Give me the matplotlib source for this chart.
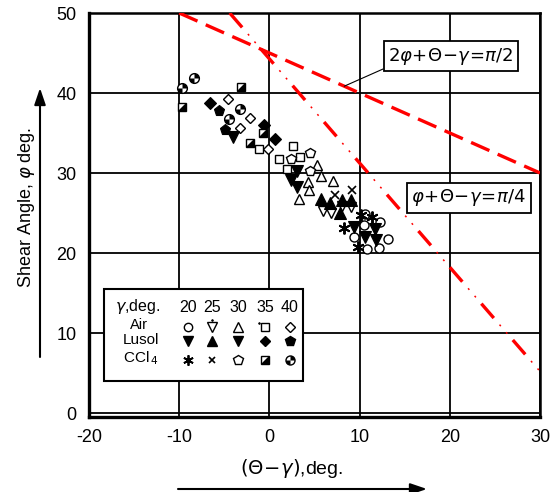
import matplotlib
matplotlib.use('Agg')
import matplotlib.pyplot as plt
from matplotlib.path import Path
from matplotlib.patches import Rectangle, FancyArrowPatch

plt.rcParams['font.family'] = ['Liberation Sans', 'DejaVu Sans']
plt.rcParams['mathtext.fontset'] = 'dejavusans'
plt.rcParams['lines.scale_dashes'] = False

# ---------------- data ----------------
air20_x = [10.6, 12.3, 10.5, 9.4, 13.1, 10.85, 12.1]
air20_y = [24.9, 23.9, 23.5, 22.0, 21.8, 20.5, 20.6]
air25_x = [5.9, 6.85, 8.1, 9.1]
air25_y = [25.2, 25.0, 25.9, 25.7]
air30_x = [5.3, 5.7, 7.1, 4.3, 4.4, 3.3]
air30_y = [31.0, 29.6, 29.0, 28.9, 27.9, 26.7]
air35_x = [-1.2, 1.1, 2.0, 2.6, 3.4]
air35_y = [33.0, 31.8, 30.5, 33.4, 32.0]
air40_x = [-4.6, -2.2, -3.3, -0.1]
air40_y = [39.3, 36.9, 35.6, 33.0]

lusol20_x = [9.4, 10.6, 11.7, 11.85]
lusol20_y = [23.3, 22.0, 23.0, 21.6]
lusol25_x = [5.7, 6.7, 8.1, 9.1, 7.8]
lusol25_y = [26.7, 26.3, 26.6, 26.6, 25.0]
lusol30_x = [3.1, 2.4, 3.1, -4.0]
lusol30_y = [30.2, 29.1, 28.2, 34.5]
lusol35_x = [-6.6, -0.6, 0.67]
lusol35_y = [38.7, 36.0, 34.25]
lusol40_x = [-5.6, -4.9]
lusol40_y = [37.7, 35.4]

ccl4_20_x = [10.1, 11.4, 8.3, 9.8]
ccl4_20_y = [24.75, 24.5, 23.1, 20.7]
ccl4_25_x = [7.3, 9.15]
ccl4_25_y = [27.25, 27.9]
ccl4_30_x = [2.4, 4.5, 4.5]
ccl4_30_y = [31.8, 32.5, 30.2]
ccl4_35_x = [-9.7, -3.1, -0.7, -2.2]
ccl4_35_y = [38.3, 40.7, 35.0, 33.7]
ccl4_40_x = [-8.4, -9.7, -3.3, -4.5]
ccl4_40_y = [41.9, 40.6, 38.0, 36.75]

# theory lines
line_half_x = [-10, 30]      # 2phi + Theta - gamma = pi/2
line_half_y = [50, 30]
line_quarter_x = [-4.4, 30]  # phi + Theta - gamma = pi/4
line_quarter_y = [50, 5.2]

xticks = [-20, -10, 0, 10, 20, 30]
yticks = [0, 10, 20, 30, 40, 50]
gammas = ['20', '25', '30', '35', '40']

# ---------------- custom markers ----------------
tri_lr = Path([(-1, -1), (1, -1), (1, 1), (-1, -1)],
              [Path.MOVETO, Path.LINETO, Path.LINETO, Path.CLOSEPOLY])
quads = Path.make_compound_path(Path.wedge(0, 90), Path.wedge(180, 270))

W, H = 551, 492
fig = plt.figure(figsize=(W / 100, H / 100), dpi=100)
ax = fig.add_axes([89 / W, 1 - 417 / H, 451 / W, 404 / H])
ax.set_xlim(-20, 30)
ax.set_ylim(-0.5, 50)
ax.set_xticks(xticks)
ax.set_yticks(yticks)
ax.set_xticklabels([str(v) for v in xticks])
ax.set_yticklabels([str(v) for v in yticks])
ax.tick_params(length=0, labelsize=13, pad=9)
ax.grid(True, color='black', lw=1.3)
ax.set_axisbelow(True)
for s in ['left', 'bottom']:
    ax.spines[s].set_linewidth(2.4)
for s in ['top', 'right']:
    ax.spines[s].set_linewidth(1.8)

# red theory lines
ax.plot(line_half_x, line_half_y, color='red', lw=2.4, dashes=(14.4, 6.5),
        solid_capstyle='butt', dash_capstyle='butt', zorder=3)
ax.plot(line_quarter_x, line_quarter_y, color='red', lw=2.4,
        ls=(0, (13.7, 20.9)), dash_capstyle='butt', zorder=3)
ax.plot(line_quarter_x, line_quarter_y, color='red', lw=1.1,
        ls=(14.6, (1.4, 5.8, 1.4, 26.0)), dash_capstyle='butt', zorder=3)

mk = dict(ls='none', zorder=5, mec='black')
# Air (open)
ax.plot(air20_x, air20_y, marker='o', ms=6.5, mfc='white', mew=1.0, **mk)
ax.plot(air25_x, air25_y, marker='v', ms=7.5, mfc='white', mew=1.0, **mk)
ax.plot(air30_x, air30_y, marker='^', ms=7.5, mfc='white', mew=1.0, **mk)
ax.plot(air35_x, air35_y, marker='s', ms=6.0, mfc='white', mew=1.0, **mk)
ax.plot(air40_x, air40_y, marker='D', ms=5.3, mfc='white', mew=1.0, **mk)
# Lusol (filled)
ax.plot(lusol20_x, lusol20_y, marker='v', ms=8, mfc='black', mew=0.8, **mk)
ax.plot(lusol25_x, lusol25_y, marker='^', ms=8, mfc='black', mew=0.8, **mk)
ax.plot(lusol30_x, lusol30_y, marker='v', ms=8, mfc='black', mew=0.8, **mk)
ax.plot(lusol35_x, lusol35_y, marker='D', ms=5.8, mfc='black', mew=0.8, **mk)
ax.plot(lusol40_x, lusol40_y, marker='p', ms=8, mfc='black', mew=0.8, **mk)
# CCl4
ax.plot(ccl4_20_x, ccl4_20_y, marker=(6, 2, 0), ms=8.5, mew=1.4, **mk)
ax.plot(ccl4_25_x, ccl4_25_y, marker='x', ms=5.5, mew=1.2, **mk)
ax.plot(ccl4_30_x, ccl4_30_y, marker='p', ms=7.5, mfc='white', mew=1.0, **mk)
ax.plot(ccl4_35_x, ccl4_35_y, marker='s', ms=6.0, mfc='white', mew=1.0, **mk)
ax.plot(ccl4_35_x, ccl4_35_y, marker=tri_lr, ms=6.0, mfc='black', mew=0, ls='none', zorder=6)
ax.plot(ccl4_40_x, ccl4_40_y, marker='o', ms=7.0, mfc='white', mew=1.0, **mk)
ax.plot(ccl4_40_x, ccl4_40_y, marker=quads, ms=7.0, mfc='black', mew=0, ls='none', zorder=6)

# ---------------- equation boxes ----------------
box = dict(boxstyle='square,pad=0.25', fc='white', ec='black', lw=1.3)
ax.annotate(r'$2\varphi\!+\!\Theta\!-\!\gamma\!=\!\pi/2$', xy=(8.3, 40.85), xytext=(20.1, 44.6),
            textcoords='data', ha='center', va='center', fontsize=13, bbox=box,
            arrowprops=dict(arrowstyle='-', lw=0.8, color='black', relpos=(0, 0),
                            shrinkA=0, shrinkB=0), zorder=7)
ax.text(22.1, 26.9, r'$\varphi\!+\!\Theta\!-\!\gamma\!=\!\pi/4$', ha='center', va='center',
        fontsize=13, bbox=box, zorder=7)

# ---------------- legend table ----------------
def axf(px, py):
    return ((px - 89) / 451, (417 - py) / 404)

x0, y0 = axf(104, 381)
x1, y1 = axf(303, 289)
ax.add_patch(Rectangle((x0, y0), x1 - x0, y1 - y0, transform=ax.transAxes,
                       fc='white', ec='black', lw=1.5, zorder=8, clip_on=False))
tk = dict(transform=ax.transAxes, zorder=9, va='center')
ax.text(*axf(115, 307), r'$\gamma$,deg.', ha='left', fontsize=11.5, **tk)
col_px = [188, 212, 238, 265, 290]
for g, cx in zip(gammas, col_px):
    ax.text(*axf(cx, 308), g, ha='center', fontsize=11.5, **tk)
ax.text(*axf(139, 325), 'Air', ha='center', fontsize=10.5, **tk)
ax.text(*axf(123, 340), 'Lusol', ha='left', fontsize=11, **tk)
ax.text(*axf(123, 358), r'CCl$_{\,4}$', ha='left', fontsize=11, **tk)

lk = dict(transform=ax.transAxes, ls='none', zorder=9, clip_on=False, mec='black')
ry_air, ry_lus, ry_ccl = 327, 341, 360
# Air row
ax.plot(*axf(col_px[0], ry_air), marker='o', ms=6, mfc='white', mew=1, **lk)
ax.plot(*axf(col_px[1], ry_air), marker='v', ms=7, mfc='white', mew=1, **lk)
ax.plot(*axf(col_px[1], ry_air - 7), marker='.', ms=2.5, mfc='black', mew=0.5, **lk)
ax.plot(*axf(col_px[2], ry_air), marker='^', ms=7, mfc='white', mew=1, **lk)
ax.plot(*axf(col_px[3], ry_air), marker='s', ms=5.5, mfc='white', mew=1, **lk)
ax.plot(*axf(col_px[3] - 6, ry_air - 4), marker='.', ms=2.5, mfc='black', mew=0.5, **lk)
ax.plot(*axf(col_px[4], ry_air), marker='D', ms=5, mfc='white', mew=1, **lk)
# Lusol row
ax.plot(*axf(col_px[0], ry_lus), marker='v', ms=7.5, mfc='black', **lk)
ax.plot(*axf(col_px[1], ry_lus), marker='^', ms=7.5, mfc='black', **lk)
ax.plot(*axf(col_px[2], ry_lus), marker='v', ms=7.5, mfc='black', **lk)
ax.plot(*axf(col_px[3], ry_lus), marker='D', ms=5.5, mfc='black', **lk)
ax.plot(*axf(col_px[4], ry_lus), marker='p', ms=7.5, mfc='black', **lk)
# CCl4 row
ax.plot(*axf(col_px[0], ry_ccl), marker=(6, 2, 0), ms=7.5, mew=1.3, **lk)
ax.plot(*axf(col_px[1], ry_ccl), marker='x', ms=5, mew=1.2, **lk)
ax.plot(*axf(col_px[2], ry_ccl), marker='p', ms=7, mfc='white', mew=1, **lk)
ax.plot(*axf(col_px[3], ry_ccl), marker='s', ms=5.5, mfc='white', mew=1, **lk)
ax.plot(*axf(col_px[3], ry_ccl), marker=tri_lr, ms=5.5, mfc='black', mew=0, **lk)
ax.plot(*axf(col_px[4], ry_ccl), marker='o', ms=6.5, mfc='white', mew=1, **lk)
ax.plot(*axf(col_px[4], ry_ccl), marker=quads, ms=6.5, mfc='black', mew=0, **lk)

# ---------------- axis labels with arrows ----------------
fig.text(27 / W, 1 - 207 / H, r'Shear Angle, $\varphi$ deg.', rotation=90,
         ha='center', va='center', fontsize=13)
fig.text(292 / W, 1 - 469 / H, r'$\left(\Theta\!-\!\gamma\right)$,deg.', ha='center',
         va='center', fontsize=14)
arr = dict(arrowstyle='-|>,head_length=0.5,head_width=0.17', mutation_scale=20,
           lw=1.5, color='black', shrinkA=0, shrinkB=0)
fig.add_artist(FancyArrowPatch((40 / W, 1 - 357 / H), (40 / W, 1 - 88 / H),
                               transform=fig.transFigure, **arr))
fig.add_artist(FancyArrowPatch((178 / W, 1 - 489 / H), (427 / W, 1 - 489 / H),
                               transform=fig.transFigure, **arr))

fig.savefig('out.png', dpi=100)
